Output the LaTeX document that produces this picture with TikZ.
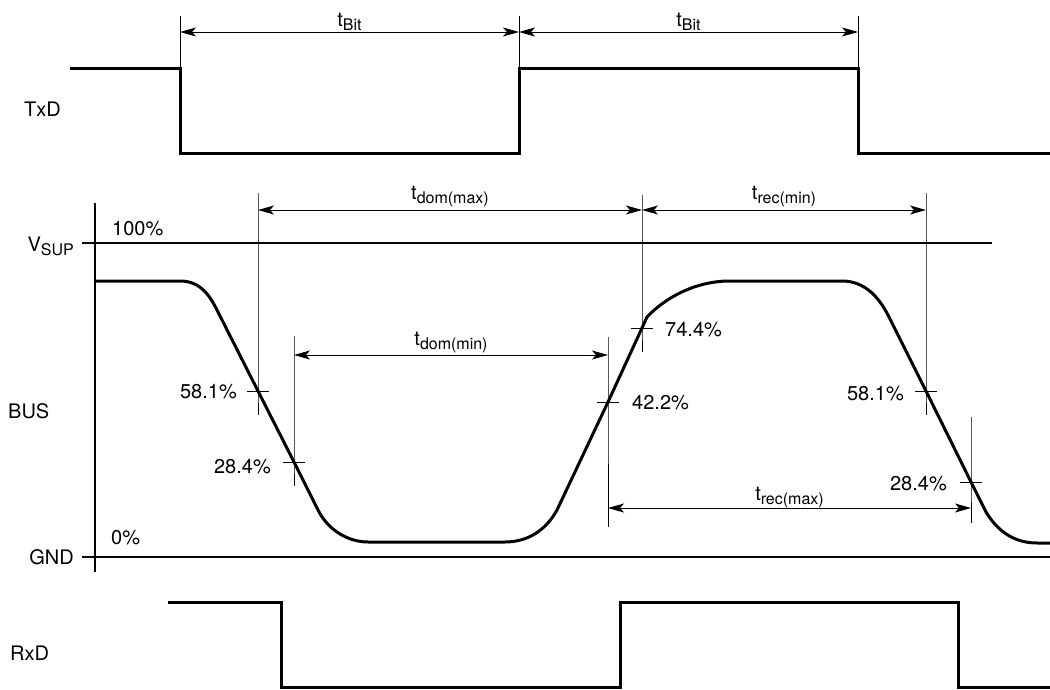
\documentclass[tikz,border=0pt]{standalone}
\usepackage{fontspec}
\setmainfont{TeX Gyre Heros}
\usetikzlibrary{arrows.meta}

% t com indice (t_Bit, t_dom(max), ...)
\newcommand{\tsub}[2]{#1\raisebox{-4pt}{\fontsize{16}{18}\selectfont #2}}

\begin{document}
\begin{tikzpicture}[
		  x=1pt, y=-1pt,
		  every node/.style={font=\fontsize{20}{24}\selectfont, inner sep=0pt}
		]

		\tikzset{
		    sinal/.style={line width=3pt},
		    eixo/.style={line width=2pt},
		    guia/.style={line width=0.8pt},
		    marca/.style={line width=0.8pt},
		    cota/.style={line width=0.9pt, {Stealth[length=16pt,width=9pt,inset=4pt]}-{Stealth[length=16pt,width=9pt,inset=4pt]}}
		}

		\useasboundingbox (0,0) rectangle (1050,690);

		% TxD
		\node[anchor=base west] (txd) at (24,117) {TxD};
		\coordinate (tx1) at (180,69);
		\coordinate (tx2) at (519,69);
		\coordinate (tx3) at (858,69);
		\draw[sinal] (70,69) -- (tx1) -- (180,154) -- (519,154) -- (tx2) -- (tx3) -- (858,154) -- (1050,154);

		\draw[guia] (180,16) -- (tx1);
		\draw[guia] (519,16) -- (tx2);
		\draw[guia] (858,16) -- (tx3);
		\draw[cota] (180,32) -- (519,32);
		\draw[cota] (519,32) -- (858,32);
		\node[anchor=base] (tbit1) at (349.5,27) {\tsub{t}{Bit}};
		\node[anchor=base] (tbit2) at (688.5,27) {\tsub{t}{Bit}};

		% BUS
		\node[anchor=base west] (bus) at (8,418) {BUS};
		\node[anchor=base east] (vsup) at (74,251) {\tsub{V}{SUP}};
		\node[anchor=base east] (gnd) at (74,564) {GND};
		\node[anchor=base west] (cem) at (112,235) {100\%};
		\node[anchor=base west] (zero) at (111,544) {0\%};

		\draw[eixo] (95,203) -- (95,572);
		\draw[eixo] (82,243) -- (992,243);
		\draw[eixo] (82,557) -- (1050,557);

		% pontos de cruzamento
		\coordinate (d581) at (258,391);
		\coordinate (d284) at (294,462);
		\coordinate (s422) at (608,402);
		\coordinate (s744) at (642,328);
		\coordinate (r581) at (926,391);
		\coordinate (r284) at (971,482);

		\draw[sinal] (95,281) -- (180,281) .. controls (202,281) and (211,298) .. (218,312)
		  -- (d581) -- (d284) -- (318,510) .. controls (328,530) and (348,542) .. (368,542)
		  -- (505,542) .. controls (528,542) and (546,530) .. (557,510)
		  -- (s422) -- (s744) -- (647,317) .. controls (665,298) and (695,281) .. (730,281)
		  -- (842,281) .. controls (866,281) and (880,299) .. (889,317)
		  -- (r581) -- (r284) -- (986,512) .. controls (998,532) and (1015,543) .. (1037,543)
		  -- (1050,543);

		\foreach \p in {d581,d284,s422,s744,r581,r284}
		  \draw[marca] (\p) +(-11,0) -- +(11,0);

		\node[anchor=base east] (p581e) at (237,398) {58.1\%};
		\node[anchor=base east] (p284e) at (271,473) {28.4\%};
		\node[anchor=base west] (p744) at (665,336) {74.4\%};
		\node[anchor=base west] (p422) at (632,409) {42.2\%};
		\node[anchor=base east] (p581d) at (904,400) {58.1\%};
		\node[anchor=base east] (p284d) at (947,490) {28.4\%};

		% linhas de chamada
		\draw[guia] (258,193) -- (d581) -- (258,415);
		\draw[guia] (294,336) -- (d284) -- (294,486);
		\draw[guia] (608,337) -- (s422) -- (608,527);
		\draw[guia] (642,195) -- (s744) -- (642,352);
		\draw[guia] (926,193) -- (r581) -- (926,415);
		\draw[guia] (971,417) -- (r284) -- (971,523);

		% cotas
		\draw[cota] (258,210) -- (642,210);
		\draw[cota] (642,210) -- (926,210);
		\draw[cota] (294,355) -- (608,355);
		\draw[cota] (608,508) -- (971,508);
		\node[anchor=base] (tdommax) at (450,200) {\tsub{t}{dom(max)}};
		\node[anchor=base] (trecmin) at (784,200) {\tsub{t}{rec(min)}};
		\node[anchor=base] (tdommin) at (451,345) {\tsub{t}{dom(min)}};
		\node[anchor=base] (trecmax) at (789.5,500) {\tsub{t}{rec(max)}};

		% RxD
		\node[anchor=base west] (rxd) at (10,660) {RxD};
		\draw[sinal] (168,602) -- (281,602) -- (281,687) -- (620,687) -- (620,602) -- (958,602) -- (958,687) -- (1050,687);

		\end{tikzpicture}
\end{document}
